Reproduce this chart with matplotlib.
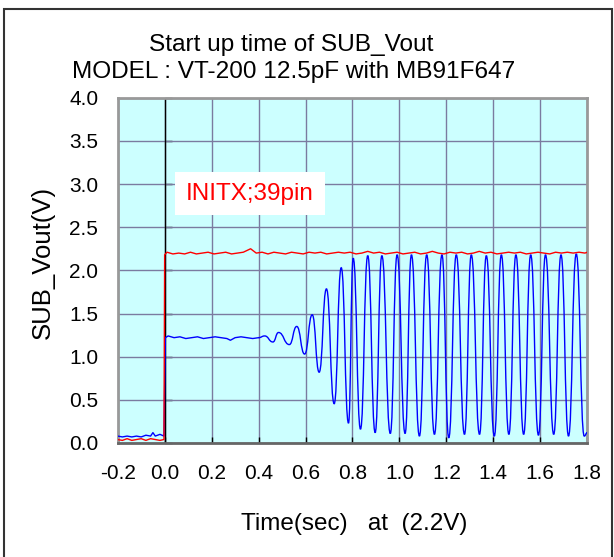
import numpy as np
import matplotlib
matplotlib.use("Agg")
import matplotlib.pyplot as plt
from matplotlib.path import Path
from matplotlib.patches import PathPatch, Rectangle

plt.rcParams["font.family"] = ["Liberation Sans", "DejaVu Sans"]

# ------------------------------------------------------------
# data
# ------------------------------------------------------------
# red: INITX (39pin)
red_t = [-0.20, -0.18, -0.16, -0.14, -0.12, -0.10, -0.08, -0.06, -0.04, -0.02, -0.003,
         0.000, 0.010, 0.035, 0.060, 0.085, 0.110, 0.135, 0.160, 0.185, 0.210, 0.235,
         0.260, 0.285, 0.310, 0.335, 0.366, 0.390, 0.415, 0.440, 0.465, 0.490, 0.515,
         0.540, 0.565, 0.590, 0.615, 0.640, 0.665, 0.690, 0.715, 0.740, 0.765, 0.790,
         0.815, 0.840, 0.865, 0.890, 0.915, 0.940, 0.965, 0.990, 1.015, 1.040, 1.065,
         1.090, 1.115, 1.140, 1.165, 1.190, 1.215, 1.240, 1.265, 1.290, 1.315, 1.340,
         1.365, 1.390, 1.415, 1.440, 1.465, 1.490, 1.515, 1.540, 1.565, 1.590, 1.615,
         1.640, 1.665, 1.690, 1.715, 1.740, 1.765, 1.790, 1.800]
red_v = [0.04, 0.03, 0.05, 0.03, 0.04, 0.05, 0.03, 0.05, 0.04, 0.03, 0.04,
         2.18, 2.21, 2.19, 2.20, 2.19, 2.21, 2.19, 2.20, 2.21, 2.19, 2.20,
         2.21, 2.19, 2.20, 2.21, 2.25, 2.20, 2.21, 2.19, 2.21, 2.20, 2.19,
         2.21, 2.20, 2.19, 2.21, 2.20, 2.21, 2.19, 2.20, 2.21, 2.20, 2.21,
         2.19, 2.20, 2.22, 2.20, 2.21, 2.19, 2.20, 2.21, 2.19, 2.20, 2.21,
         2.19, 2.20, 2.22, 2.20, 2.19, 2.21, 2.20, 2.21, 2.19, 2.20, 2.22,
         2.20, 2.21, 2.19, 2.20, 2.21, 2.20, 2.21, 2.19, 2.20, 2.21, 2.20,
         2.19, 2.21, 2.20, 2.21, 2.20, 2.21, 2.20, 2.21]

# blue: SUB_Vout, before the oscillator starts
blue_t = [-0.20, -0.18, -0.16, -0.14, -0.12, -0.10, -0.08, -0.06, -0.05, -0.04, -0.02, -0.003,
          0.003, 0.015, 0.040, 0.065, 0.090, 0.115, 0.140, 0.165, 0.190, 0.215, 0.240,
          0.265, 0.280, 0.300, 0.325, 0.350, 0.375, 0.400]
blue_v = [0.08, 0.07, 0.08, 0.07, 0.08, 0.07, 0.09, 0.08, 0.12, 0.08, 0.10, 0.08,
          1.22, 1.24, 1.22, 1.23, 1.21, 1.22, 1.23, 1.21, 1.22, 1.23, 1.22,
          1.21, 1.19, 1.22, 1.23, 1.22, 1.21, 1.22]

# blue: oscillation peaks / troughs
osc_t = [0.400, 0.426, 0.461, 0.485, 0.531, 0.5625, 0.596, 0.6285, 0.658, 0.689, 0.722,
         0.752, 0.783, 0.803, 0.834, 0.865, 0.8965, 0.925, 0.961, 0.990, 1.024,
         1.051, 1.085, 1.116, 1.149, 1.181, 1.210, 1.242, 1.277, 1.306, 1.341,
         1.370, 1.404, 1.434, 1.466, 1.496, 1.529, 1.559, 1.592, 1.622, 1.657,
         1.688, 1.720, 1.753, 1.787, 1.800]
osc_v = [1.22, 1.24, 1.17, 1.28, 1.14, 1.35, 1.03, 1.485, 0.82, 1.785, 0.455,
         2.03, 0.23, 2.14, 0.16, 2.17, 0.12, 2.17, 0.11, 2.18, 0.11,
         2.18, 0.08, 2.18, 0.10, 2.18, 0.06, 2.18, 0.10, 2.18, 0.10,
         2.17, 0.08, 2.18, 0.10, 2.18, 0.10, 2.18, 0.09, 2.18, 0.10,
         2.18, 0.08, 2.19, 0.08, 0.12]

x_ticks = [-0.2, 0.0, 0.2, 0.4, 0.6, 0.8, 1.0, 1.2, 1.4, 1.6, 1.8]
y_ticks = [0.0, 0.5, 1.0, 1.5, 2.0, 2.5, 3.0, 3.5, 4.0]

# ------------------------------------------------------------
# plot
# ------------------------------------------------------------
W, H = 614, 557
fig = plt.figure(figsize=(W / 100, H / 100), dpi=100)
ax = fig.add_axes([0.1917, 0.2047, 0.7648, 0.6199])
ax.set_facecolor("#ccffff")

ax.set_xlim(-0.2, 1.8)
ax.set_ylim(0.0, 4.0)
ax.set_xticks(x_ticks)
ax.set_xticklabels([f"{v:.1f}" for v in x_ticks])
ax.set_yticks(y_ticks)
ax.set_yticklabels([f"{v:.1f}" for v in y_ticks])
ax.tick_params(axis="x", direction="in", length=4.5, width=1, color="black",
               labelsize=15, pad=15)
ax.tick_params(axis="y", length=0, labelsize=15, pad=14)
ax.grid(True, color="#7b7ba0", linewidth=1.0)
ax.set_axisbelow(True)
for s in ax.spines.values():
    s.set_color("#999999")
    s.set_linewidth(2)
ax.spines["bottom"].set_color("#666666")

# y axis crosses at x = 0
ax.axvline(0.0, color="black", linewidth=1.0, zorder=1.5)
sec = ax.secondary_yaxis(0.1)
sec.set_yticks(y_ticks)
sec.tick_params(direction="in", length=5, width=1, color="black", labelleft=False)
sec.spines["left"].set_visible(False)

ax.plot(blue_t, blue_v, color="#0000ff", linewidth=1.0, zorder=3)

# oscillation: smooth through the read extrema
verts = [(osc_t[0], osc_v[0])]
codes = [Path.MOVETO]
for i in range(1, len(osc_t)):
    dt = osc_t[i] - osc_t[i - 1]
    verts += [(osc_t[i - 1] + 0.5 * dt, osc_v[i - 1]),
              (osc_t[i] - 0.5 * dt, osc_v[i]),
              (osc_t[i], osc_v[i])]
    codes += [Path.CURVE4] * 3
ax.add_patch(PathPatch(Path(verts, codes), fill=False, edgecolor="#0000ff",
                       linewidth=1.0, zorder=3))

ax.plot(red_t, red_v, color="#ff0000", linewidth=1.0, zorder=4)

ax.text(0.364, 2.89, "INITX;39pin", color="#ff0000", fontsize=17.5,
        ha="center", va="center", zorder=5,
        bbox=dict(boxstyle="square,pad=0.45", facecolor="white", edgecolor="none"))

fig.text(291 / W, 1 - 51 / H, "Start up time of SUB_Vout", fontsize=17.6,
         ha="center", va="baseline")
fig.text(293.5 / W, 1 - 78 / H, "MODEL : VT-200 12.5pF with MB91F647", fontsize=17.6,
         ha="center", va="baseline")
fig.text(43 / W, 1 - 262 / H, "SUB_Vout(V)", fontsize=18.5, rotation=90,
         ha="center", va="center")
fig.text(354.5 / W, 1 - 530 / H, "Time(sec)   at  (2.2V)", fontsize=17.5,
         ha="center", va="baseline")

# outer frame (bottom edge is cut off)
fig.add_artist(Rectangle((4 / W, -0.1), 608 / W, 1.1 - 9 / H,
                         transform=fig.transFigure, fill=False,
                         edgecolor="#333333", linewidth=1.5))

fig.savefig("out.png", dpi=100)
